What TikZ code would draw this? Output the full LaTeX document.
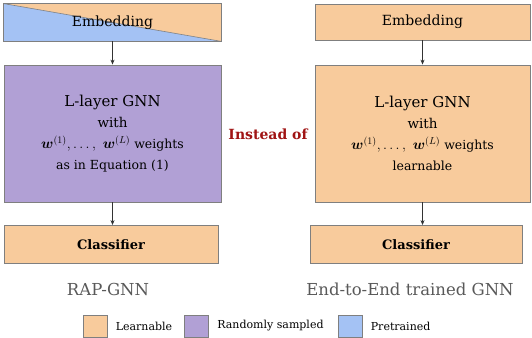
\documentclass[tikz,border=0pt]{standalone}
\usepackage{amsmath}
\usepackage{bm}
\usepackage{fontspec}
\setmainfont{DejaVu Serif}
\usetikzlibrary{arrows.meta, positioning, calc}
\definecolor{myorange}{RGB}{248,203,156}
\definecolor{mypurple}{RGB}{177,160,213}
\definecolor{myblue}{RGB}{164,194,244}
\definecolor{myborder}{RGB}{127,127,127}
\definecolor{myred}{RGB}{160,20,20}
\definecolor{mygray}{RGB}{89,89,89}
\tikzset{
  layer/.style={rectangle, draw=myborder, line width=0.8pt,
    align=center, inner sep=0pt},
  orangebox/.style={layer, fill=myorange},
  purplebox/.style={layer, fill=mypurple},
  gnnfont/.style={font=\fontsize{12.5}{21}\selectfont},
  legbox/.style={rectangle, draw=myborder, line width=0.6pt,
    minimum width=24pt, minimum height=22pt, inner sep=0pt},
  legtext/.style={font=\fontsize{11}{13}\selectfont, anchor=west},
  arrow/.style={-{Stealth[length=5pt,width=4pt]}, line width=0.7pt, color=black!80},
  modelname/.style={font=\fontsize{16.5}{20}\selectfont, color=mygray}
}
\newcommand{\gnnlines}[1]{{\fontsize{15}{21}\selectfont L-layer GNN}\\
  {\fontsize{13.5}{21}\selectfont with}\\
  {\fontsize{14}{21}\selectfont$\bm{w}^{(1)},\dots,\ \bm{w}^{(L)}$} weights\\
  #1}

\begin{document}
\begin{tikzpicture}[x=1pt, y=-1pt]
  \useasboundingbox (0,0) rectangle (532,337);

  % RAP-GNN column
  \node[layer, minimum width=217pt, minimum height=37pt] (embL) at (112.5,22.5) {};
  \fill[myorange] (embL.north west) -- (embL.north east) -- (embL.south east) -- cycle;
  \fill[myblue] (embL.north west) -- (embL.south west) -- (embL.south east) -- cycle;
  \draw[myborder, line width=0.6pt] (embL.north west) -- (embL.south east);
  \draw[myborder, line width=0.8pt] (embL.north west) rectangle (embL.south east);
  \node[font=\fontsize{14}{16}\selectfont] (embLt) at (embL) {Embedding};
  \node[purplebox, gnnfont, minimum width=217pt, minimum height=137pt] (gnnL) at (112.5,133.5)
    {\gnnlines{as in Equation (1)}};
  \node[orangebox, minimum width=214pt, minimum height=38pt,
    font=\fontsize{13}{16}\selectfont\bfseries] (clsL) at (111,244.5) {Classifier};

  % end-to-end column
  \node[orangebox, minimum width=215pt, minimum height=36pt,
    font=\fontsize{14}{16}\selectfont] (embR) at (422.5,22) {Embedding};
  \node[orangebox, gnnfont, minimum width=215pt, minimum height=137pt] (gnnR) at (422.5,133.5)
    {\gnnlines{learnable}};
  \node[orangebox, minimum width=212pt, minimum height=38pt,
    font=\fontsize{13}{16}\selectfont\bfseries] (clsR) at (416,244.5) {Classifier};

  % connectors
  \draw[arrow] (embL.south) -- (gnnL.north);
  \draw[arrow] (gnnL.south) -- (gnnL.south |- clsL.north);
  \draw[arrow] (embR.south) -- (gnnR.north);
  \draw[arrow] (gnnR.south) -- (gnnR.south |- clsR.north);

  \node[font=\fontsize{14}{17}\selectfont\bfseries, color=myred] (instead) at (268,134) {Instead of};

  % model names
  \node[modelname] (rap) at (108,289) {RAP-GNN};
  \node[modelname] (e2e) at (410,289) {End-to-End trained GNN};

  % legend
  \node[legbox, fill=myorange] (legO) at (95,326) {};
  \node[legtext, right=5pt of legO] (legOt) {Learnable};
  \node[legbox, fill=mypurple] (legP) at (196.5,326) {};
  \node[legtext, right=5pt of legP] (legPt) {Randomly sampled};
  \node[legbox, fill=myblue] (legB) at (350,326) {};
  \node[legtext, right=5pt of legB] (legBt) {Pretrained};
\end{tikzpicture}
\end{document}
